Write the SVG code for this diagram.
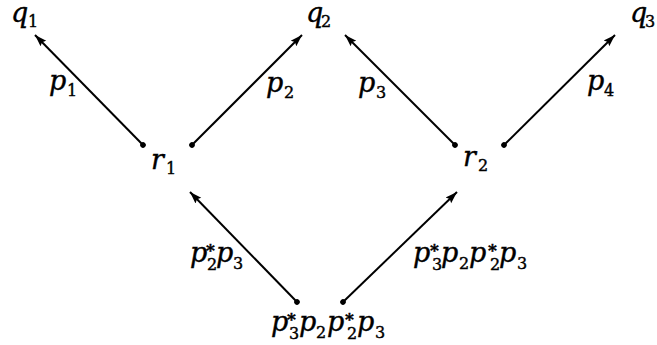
<svg xmlns="http://www.w3.org/2000/svg" width="657" height="345" viewBox="0 0 657 345">
<style>
text{font-family:'DejaVu Serif',serif;fill:#000;stroke:#000;stroke-width:0.4}
.m{font-style:italic;font-size:27px}
.s{font-size:16px;font-style:normal}
.st{font-size:17px;font-style:normal;font-weight:bold}
.e{stroke:#000;stroke-width:2;fill:none;marker-end:url(#ah);marker-start:url(#dot)}
</style>
<defs>
<marker id="ah" markerUnits="userSpaceOnUse" markerWidth="14" markerHeight="10" refX="12" refY="5" orient="auto"><path d="M0,1 L12,5 L0,9 L2,5 Z" fill="#000"/></marker>
<marker id="dot" markerUnits="userSpaceOnUse" markerWidth="8" markerHeight="8" refX="4" refY="4" orient="auto"><circle cx="4" cy="4" r="2.8" fill="#000"/></marker>
</defs>
<rect width="657" height="345" fill="#fff"/>
<g id="connectors">
<line class="e" x1="143" y1="145" x2="35" y2="35"/>
<line class="e" x1="192" y1="145" x2="302" y2="35"/>
<line class="e" x1="455" y1="145" x2="345" y2="35"/>
<line class="e" x1="504" y1="145" x2="615" y2="35"/>
<line class="e" x1="297" y1="302" x2="190" y2="192"/>
<line class="e" x1="343" y1="302" x2="457" y2="192"/>
</g>
<g id="q1"><text class="m" x="11" y="22">q<tspan class="s" x="28" y="27">1</tspan></text></g>
<g id="q2"><text class="m" x="306" y="22">q<tspan class="s" x="321" y="27">2</tspan></text></g>
<g id="q3"><text class="m" x="630" y="22">q<tspan class="s" x="645" y="27">3</tspan></text></g>
<g id="r1"><text class="m" x="151" y="169">r<tspan class="s" x="166" y="174">1</tspan></text></g>
<g id="r2"><text class="m" x="463" y="166">r<tspan class="s" x="478" y="171">2</tspan></text></g>
<g id="bottom"><text class="m" x="271" y="331">p<tspan class="st" x="287" y="325">*</tspan><tspan class="s" x="289" y="339">3</tspan><tspan x="299" y="331">p</tspan><tspan class="s" x="316" y="338">2</tspan><tspan x="327" y="331">p</tspan><tspan class="st" x="345" y="325">*</tspan><tspan class="s" x="347" y="339">2</tspan><tspan x="357" y="331">p</tspan><tspan class="s" x="375" y="338">3</tspan></text></g>
<g id="edge-labels">
<text class="m" x="49" y="90">p<tspan class="s" x="67" y="96">1</tspan></text>
<text class="m" x="266" y="92">p<tspan class="s" x="284" y="98">2</tspan></text>
<text class="m" x="358" y="92">p<tspan class="s" x="376" y="98">3</tspan></text>
<text class="m" x="587" y="90">p<tspan class="s" x="604" y="96">4</tspan></text>
<text class="m" x="190" y="262">p<tspan class="st" x="206" y="256">*</tspan><tspan class="s" x="207" y="270">2</tspan><tspan x="216" y="262">p</tspan><tspan class="s" x="233" y="269">3</tspan></text>
<text class="m" x="413" y="262">p<tspan class="st" x="430" y="256">*</tspan><tspan class="s" x="432" y="270">3</tspan><tspan x="441" y="262">p</tspan><tspan class="s" x="459" y="269">2</tspan><tspan x="469" y="262">p</tspan><tspan class="st" x="488" y="256">*</tspan><tspan class="s" x="490" y="270">2</tspan><tspan x="499" y="262">p</tspan><tspan class="s" x="517" y="269">3</tspan></text>
</g>
</svg>
